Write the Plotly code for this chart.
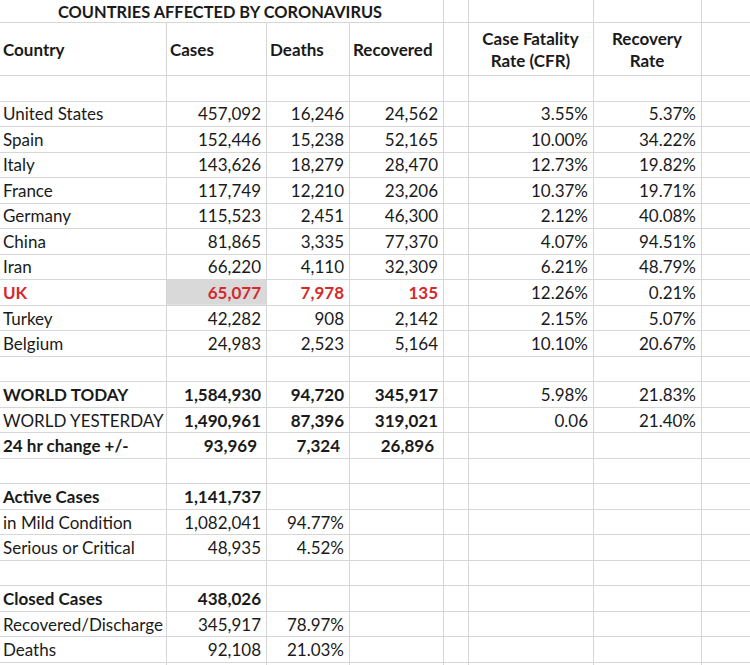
import plotly.graph_objects as go

# ---------------- data ----------------
title = "COUNTRIES AFFECTED BY CORONAVIRUS"
headers = ["Country", "Cases", "Deaths", "Recovered", "", "Case Fatality<br>Rate (CFR)", "Recovery<br>Rate"]

countries = ["United States", "Spain", "Italy", "France", "Germany", "China", "Iran", "UK", "Turkey", "Belgium"]
cases = [457092, 152446, 143626, 117749, 115523, 81865, 66220, 65077, 42282, 24983]
deaths = [16246, 15238, 18279, 12210, 2451, 3335, 4110, 7978, 908, 2523]
recovered = [24562, 52165, 28470, 23206, 46300, 77370, 32309, 135, 2142, 5164]
cfr = [3.55, 10.00, 12.73, 10.37, 2.12, 4.07, 6.21, 12.26, 2.15, 10.10]
recovery_rate = [5.37, 34.22, 19.82, 19.71, 40.08, 94.51, 48.79, 0.21, 5.07, 20.67]
highlight_country = "UK"

world_labels = ["WORLD TODAY", "WORLD YESTERDAY", "24 hr change +/-"]
world_cases = [1584930, 1490961, 93969]
world_deaths = [94720, 87396, 7324]
world_recovered = [345917, 319021, 26896]
world_cfr = ["5.98%", "0.06", ""]
world_recovery_rate = ["21.83%", "21.40%", ""]

active_labels = ["Active Cases", "in Mild Condition", "Serious or Critical"]
active_values = [1141737, 1082041, 48935]
active_shares = [None, 94.77, 4.52]

closed_labels = ["Closed Cases", "Recovered/Discharge", "Deaths"]
closed_values = [438026, 345917, 92108]
closed_shares = [None, 78.97, 21.03]

# ---------------- style ----------------
FONT = "Lato, 'Liberation Sans', sans-serif"
FS = 17
TITLE_FS = 16.4
BLACK = "#1a1a1a"
RED = "#d42a2a"
GRID = "#d6d6d6"
HILITE = "#d9d9d9"
W, H = 750, 665
col_bounds = [0, 166, 266, 349, 443, 468, 593, 701, 750]
title_row_h = 22
header_row_h = 53
row_h = 25.52
n_body_rows = 23
LEFT_PAD, RIGHT_PAD = 3, 5


def num(v):
    return f"{v:,}"


def pct(v):
    return "" if v is None else f"{v:.2f}%"


def b(s):
    return f"<b>{s}</b>" if s else s


# ---------------- build body rows ----------------
rows = []


def add_row(cells, bold=None, colors=None, extra_pad=0, fill=None):
    rows.append(dict(cells=cells,
                     bold=bold or [False] * 7,
                     colors=colors or [BLACK] * 7,
                     extra_pad=extra_pad,
                     fill=fill or [None] * 7))


blank = [""] * 7
add_row(blank)
for i, c in enumerate(countries):
    cells = [c, num(cases[i]), num(deaths[i]), num(recovered[i]), "", pct(cfr[i]), pct(recovery_rate[i])]
    if c == highlight_country:
        add_row(cells,
                bold=[True, True, True, True, False, False, False],
                colors=[RED, RED, RED, RED, BLACK, BLACK, BLACK],
                fill=[None, HILITE, None, None, None, None, None])
    else:
        add_row(cells)
add_row(blank)
world_label_bold = [True, False, True]
for i, lab in enumerate(world_labels):
    add_row([lab, num(world_cases[i]), num(world_deaths[i]), num(world_recovered[i]), "",
             world_cfr[i], world_recovery_rate[i]],
            bold=[world_label_bold[i], True, True, True, False, False, False],
            extra_pad=4 if i == 2 else 0)
add_row(blank)
for i, lab in enumerate(active_labels):
    add_row([lab, num(active_values[i]), pct(active_shares[i]), "", "", "", ""],
            bold=[i == 0, i == 0, False, False, False, False, False])
add_row(blank)
for i, lab in enumerate(closed_labels):
    add_row([lab, num(closed_values[i]), pct(closed_shares[i]), "", "", "", ""],
            bold=[i == 0, i == 0, False, False, False, False, False])

# row geometry
body_top = title_row_h + header_row_h
row_tops = [body_top + k * row_h for k in range(n_body_rows)]


def crisp(v):
    return int(round(v)) + 0.5


fig = go.Figure()

# highlighted cell fill
for r, row in enumerate(rows):
    for c, f in enumerate(row["fill"]):
        if f:
            fig.add_shape(type="rect", xref="x", yref="y",
                          x0=col_bounds[c], x1=col_bounds[c + 1],
                          y0=row_tops[r], y1=row_tops[r] + row_h,
                          fillcolor=f, line=dict(width=0), layer="below")

# grid lines
gx, gy = [], []
h_lines = [title_row_h, body_top] + [t + row_h for t in row_tops]
for yv in h_lines:
    gx += [0, W, None]
    gy += [crisp(yv), crisp(yv), None]
for k, xv in enumerate(col_bounds[1:-1]):
    start = title_row_h if k < 3 else 0  # title text overflows first columns
    gx += [crisp(xv), crisp(xv), None]
    gy += [start, H, None]
fig.add_trace(go.Scatter(x=gx, y=gy, mode="lines", line=dict(color=GRID, width=1),
                         hoverinfo="skip", showlegend=False))

# body text, one trace per column
for c in range(7):
    xs, ys, txt, cols = [], [], [], []
    for r, row in enumerate(rows):
        s = row["cells"][c]
        if not s:
            continue
        baseline = row_tops[r] + row_h - 5.7
        ys.append(baseline - 0.25 * FS)
        if c == 0:
            xs.append(col_bounds[c] + LEFT_PAD)
        else:
            xs.append(col_bounds[c + 1] - RIGHT_PAD - row["extra_pad"])
        txt.append(b(s) if row["bold"][c] else s)
        cols.append(row["colors"][c])
    if not xs:
        continue
    fig.add_trace(go.Scatter(
        x=xs, y=ys, mode="text", text=txt,
        textposition="middle right" if c == 0 else "middle left",
        textfont=dict(family=FONT, size=FS, color=cols),
        hoverinfo="skip", showlegend=False))

# header text
for c, htxt in enumerate(headers):
    if not htxt:
        continue
    two_line = "<br>" in htxt
    if two_line:
        xv = (col_bounds[c] + col_bounds[c + 1]) / 2
        yv = 45 + 0.4 * FS
        pos = "middle center"
    else:
        xv = col_bounds[c] + LEFT_PAD + (1 if c > 0 else 0)
        yv = 55.5 - 0.25 * FS
        pos = "middle right"
    fig.add_trace(go.Scatter(
        x=[xv], y=[yv], mode="text", text=[b(htxt)], textposition=pos,
        textfont=dict(family=FONT, size=FS, color=BLACK),
        hoverinfo="skip", showlegend=False))

# title
fig.add_trace(go.Scatter(
    x=[58], y=[18.3 - 0.25 * TITLE_FS], mode="text", text=[b(title)],
    textposition="middle right",
    textfont=dict(family=FONT, size=TITLE_FS, color=BLACK),
    hoverinfo="skip", showlegend=False))

fig.update_layout(
    width=W, height=H,
    margin=dict(l=0, r=0, t=0, b=0),
    paper_bgcolor="white", plot_bgcolor="white",
    showlegend=False, hovermode=False,
    xaxis=dict(range=[0, W], visible=False, fixedrange=True),
    yaxis=dict(range=[H, 0], visible=False, fixedrange=True),
)

fig.write_html("out.html", config={"displayModeBar": False},
               post_script="document.body.style.margin='0';document.body.style.overflow='hidden';")
